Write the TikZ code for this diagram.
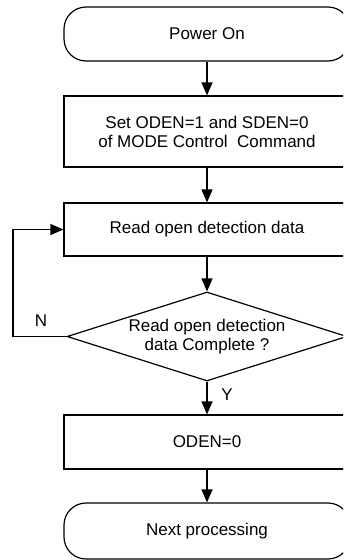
\documentclass[tikz,border=0pt]{standalone}
\usepackage{fontspec}
\setmainfont{Liberation Sans}
\usetikzlibrary{shapes.geometric,arrows.meta}
\begin{document}
\begin{tikzpicture}[x=1pt,y=-1pt,
  base/.style={draw, line width=1.2pt, font=\fontsize{17}{19}\selectfont, align=center, inner sep=0pt},
  proc/.style={base, rectangle, minimum width=286pt},
  term/.style={base, rectangle, rounded corners=22pt, minimum width=286pt},
  dec/.style={base, diamond, aspect=3.146, minimum width=280pt, minimum height=89pt},
  arr/.style={-{Triangle[length=13pt,width=11pt]}, line width=1.2pt},
  lbl/.style={font=\fontsize{17}{19}\selectfont, inner sep=0pt}]
\useasboundingbox (0,0) rectangle (343,560);
\clip (0,0) rectangle (343,560);
\node[term, minimum height=54pt] (start) at (207,34) {Power On};
\node[proc, minimum height=71pt] (set) at (207,131.5) {Set ODEN=1 and SDEN=0\\of MODE Control~ Command};
\node[proc, minimum height=53pt] (read) at (207,229.5) {Read open detection data};
\node[dec] (chk) at (207,336.5) {Read open detection\\data Complete ?};
\node[proc, minimum height=54pt] (oden) at (207,442) {ODEN=0};
\node[term, minimum height=56pt] (next) at (207,531) {Next processing};
\draw[arr] (start) -- (set);
\draw[arr] (set) -- (read);
\draw[arr] (read) -- (chk);
\draw[arr] (chk) -- (oden);
\draw[arr] (oden) -- (next);
\coordinate (fb) at (13,336.5);
\draw[arr] (chk.west) -- (fb) |- (read.west);
\node[lbl] (n) at (41,321) {N};
\node[lbl] (y) at (227,395) {Y};
\end{tikzpicture}
\end{document}
